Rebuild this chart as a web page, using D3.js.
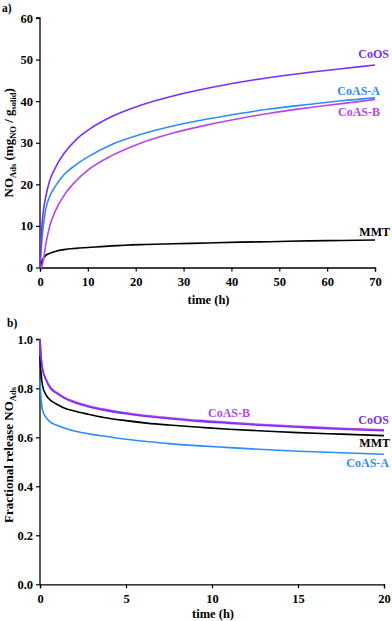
<!DOCTYPE html>
<html>
<head>
<meta charset="utf-8">
<script src="https://cdn.jsdelivr.net/npm/d3@7"></script>
<style>
  body { margin: 0; background: #fff; }
  svg text { font-family: "Liberation Serif", "Times New Roman", serif; font-weight: bold; }
</style>
</head>
<body>
<svg></svg>
<script>
var width = 392;
var height = 621;

// panel a) NO adsorbed vs time
var timeA = [0, 0.2, 0.4, 0.7, 1.2, 2, 3.3, 5, 7.5, 10, 15, 21, 28, 35, 42, 48, 56, 63, 70];
var coosA = [0, 6, 10, 13.5, 17, 20.8, 24.2, 27.4, 30.7, 33, 36.3, 39, 41.3, 43.1, 44.6, 45.7, 46.9, 47.8, 48.7];
var coasAA = [0, 3.5, 6.6, 10, 14, 17, 19.7, 22.3, 24.7, 26.6, 29.6, 32, 34.1, 35.7, 37.1, 38.1, 39.2, 40.1, 40.8];
var coasBA = [0, 0, 0.3, 1.8, 5.5, 9.8, 13.8, 17.3, 20.8, 23.4, 26.9, 29.9, 32.4, 34.3, 35.9, 37.1, 38.4, 39.4, 40.4];
var mmtA = [0, 0.8, 1.5, 2.2, 2.9, 3.4, 3.9, 4.3, 4.6, 4.8, 5.2, 5.5, 5.7, 5.9, 6.1, 6.2, 6.4, 6.5, 6.6];
var ticksXA = [0, 10, 20, 30, 40, 50, 60, 70];
var ticksYA = [0, 10, 20, 30, 40, 50, 60];

// panel b) fractional release vs time
var timeB = [0, 0.05, 0.15, 0.35, 0.6, 0.95, 1.4, 2, 2.8, 3.7, 5, 6.2, 7.5, 9.3, 11, 13, 15, 17.5, 20];
var coosB = [1, 0.94, 0.875, 0.834, 0.8, 0.78, 0.76, 0.742, 0.725, 0.711, 0.696, 0.685, 0.676, 0.665, 0.657, 0.648, 0.641, 0.633, 0.627];
var coasBB = [1, 0.945, 0.88, 0.838, 0.805, 0.784, 0.764, 0.746, 0.729, 0.715, 0.7, 0.689, 0.68, 0.669, 0.661, 0.652, 0.645, 0.637, 0.631];
var mmtB = [0.93, 0.87, 0.81, 0.773, 0.752, 0.736, 0.72, 0.707, 0.694, 0.681, 0.668, 0.658, 0.65, 0.641, 0.633, 0.626, 0.619, 0.613, 0.607];
var coasAB = [0.834, 0.77, 0.71, 0.681, 0.662, 0.65, 0.638, 0.626, 0.615, 0.605, 0.592, 0.583, 0.574, 0.565, 0.558, 0.55, 0.543, 0.537, 0.531];
var ticksXB = [0, 5, 10, 15, 20];
var ticksYB = [0, 0.2, 0.4, 0.6, 0.8, 1.0];

var colors = { coos: "#7b2ff0", coasA: "#2f8cf5", coasB: "#b347ea", mmt: "#000" };

var svg = d3.select("svg")
    .attr("width", width)
    .attr("height", height);

function drawPanel(opt) {
  var x = d3.scaleLinear().domain(opt.xDomain).range([40, opt.xRight]);
  var y = d3.scaleLinear().domain(opt.yDomain).range([opt.yBottom, opt.yTop]);
  var g = svg.append("g");

  var xAxis = g.append("g")
      .attr("transform", `translate(0, ${opt.yBottom})`)
      .call(d3.axisBottom(x).tickValues(opt.xTicks).tickSize(4).tickPadding(6).tickFormat(d3.format("d")));
  var yAxis = g.append("g")
      .attr("transform", "translate(40, 0)")
      .call(d3.axisLeft(y).tickValues(opt.yTicks).tickSize(4).tickPadding(3).tickFormat(opt.yFormat));
  [xAxis, yAxis].forEach(a => {
    a.select(".domain").attr("stroke-width", 1.3);
    a.selectAll(".tick line").attr("stroke-width", 1.2);
    a.selectAll(".tick text").attr("font-size", 12.5).attr("fill", "#000");
  });
  yAxis.select(".domain").attr("d", `M-4,${opt.yTop}H0V${opt.yBottom}`);

  var line = d3.line()
      .x(d => x(d[0]))
      .y(d => y(d[1]))
      .curve(d3.curveMonotoneX);

  opt.series.forEach(s => {
    g.append("path")
      .datum(opt.time.map((t, i) => [t, s.values[i]]))
      .attr("fill", "none")
      .attr("stroke", s.color)
      .attr("stroke-width", 1.6)
      .attr("d", line);
  });

  opt.labels.forEach(l => {
    g.append("text")
      .attr("x", l.x)
      .attr("y", l.y)
      .attr("text-anchor", l.anchor || "end")
      .attr("font-size", 12)
      .attr("fill", l.color)
      .text(l.text);
  });

  g.append("text")
    .attr("x", (40 + opt.xRight) / 2 + 1)
    .attr("y", opt.titleY)
    .attr("text-anchor", "middle")
    .attr("font-size", 12.5)
    .text("time (h)");

  g.append("text")
    .attr("x", opt.panelX)
    .attr("y", opt.panelY)
    .attr("font-size", 11.5)
    .text(opt.panel);

  return { x, y, g };
}

var a = drawPanel({
  xDomain: [0, 70], xRight: 375, yDomain: [0, 60], yBottom: 267.5, yTop: 18,
  xTicks: ticksXA, yTicks: ticksYA, yFormat: d3.format("d"),
  time: timeA,
  series: [
    { values: mmtA, color: colors.mmt },
    { values: coasBA, color: colors.coasB },
    { values: coasAA, color: colors.coasA },
    { values: coosA, color: colors.coos }
  ],
  labels: [
    { text: "CoOS", x: 389, y: 58, color: colors.coos },
    { text: "CoAS-A", x: 380, y: 95, color: colors.coasA },
    { text: "CoAS-B", x: 380, y: 116, color: colors.coasB },
    { text: "MMT", x: 390, y: 236, color: colors.mmt }
  ],
  titleY: 304, panel: "a)", panelX: 2, panelY: 12
});

var yTitleA = a.g.append("text")
    .attr("transform", `translate(13, ${(18 + 267.5) / 2}) rotate(-90)`)
    .attr("text-anchor", "middle")
    .attr("font-size", 13);
yTitleA.append("tspan").text("NO");
yTitleA.append("tspan").attr("font-size", 8.5).attr("dy", 3).text("Ads");
yTitleA.append("tspan").attr("dy", -3).text(" (mg");
yTitleA.append("tspan").attr("font-size", 8.5).attr("dy", 3).text("NO");
yTitleA.append("tspan").attr("dy", -3).text(" / g");
yTitleA.append("tspan").attr("font-size", 8.5).attr("dy", 3).text("solid");
yTitleA.append("tspan").attr("dy", -3).text(")");

var b = drawPanel({
  xDomain: [0, 20], xRight: 384, yDomain: [0, 1], yBottom: 584.3, yTop: 339.3,
  xTicks: ticksXB, yTicks: ticksYB, yFormat: d3.format(".1f"),
  time: timeB,
  series: [
    { values: coasAB, color: colors.coasA },
    { values: mmtB, color: colors.mmt },
    { values: coasBB, color: colors.coasB },
    { values: coosB, color: colors.coos }
  ],
  labels: [
    { text: "CoAS-B", x: 208, y: 417, color: colors.coasB, anchor: "start" },
    { text: "CoOS", x: 389, y: 424, color: colors.coos },
    { text: "MMT", x: 390, y: 447, color: colors.mmt },
    { text: "CoAS-A", x: 389, y: 467, color: colors.coasA }
  ],
  titleY: 618, panel: "b)", panelX: 7, panelY: 327
});

var yTitleB = b.g.append("text")
    .attr("transform", `translate(13, 455) rotate(-90)`)
    .attr("text-anchor", "middle")
    .attr("font-size", 13);
yTitleB.append("tspan").text("Fractional release NO");
yTitleB.append("tspan").attr("font-size", 8.5).attr("dy", 3).text("Ads");
</script>
</body>
</html>
